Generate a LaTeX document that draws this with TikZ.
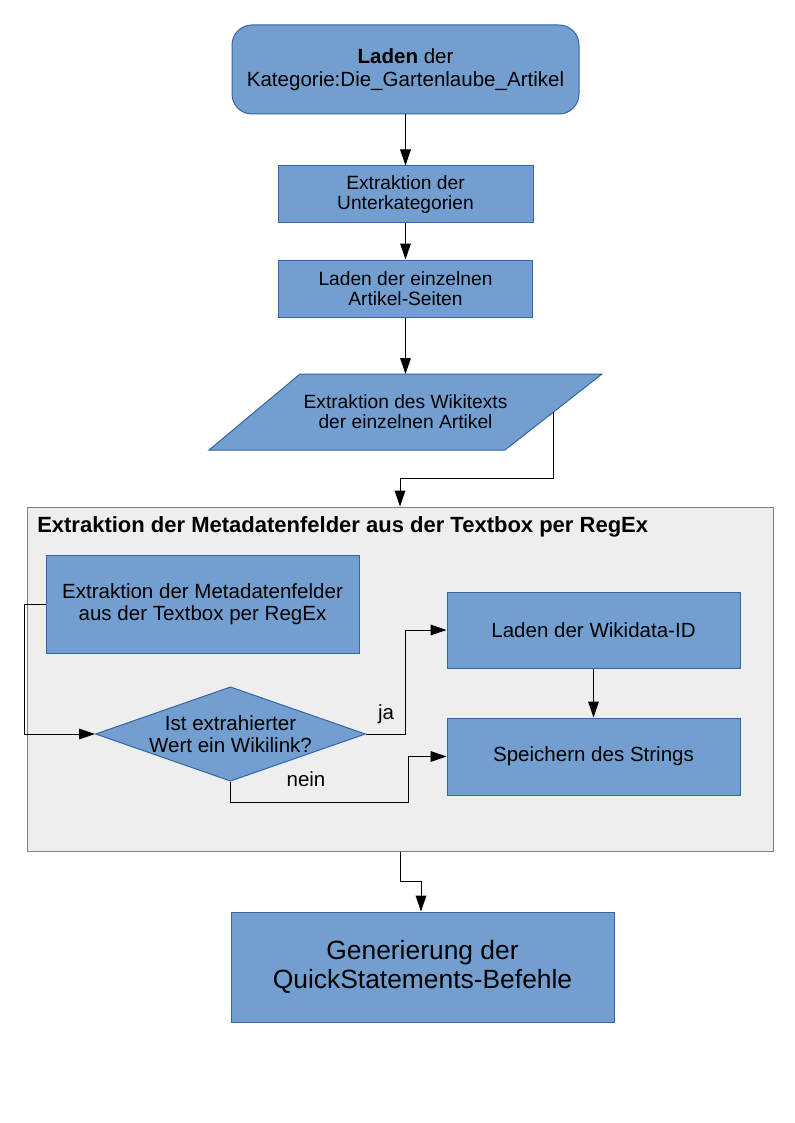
\documentclass[tikz,border=0pt]{standalone}
\usepackage{fontspec}
\setmainfont{Liberation Sans}
\usetikzlibrary{arrows.meta,shapes.geometric}
\definecolor{boxfill}{HTML}{729FCF}
\definecolor{boxline}{HTML}{3465A4}
\definecolor{metafill}{HTML}{EEEEEE}
\definecolor{metaline}{HTML}{7F7F7F}
\newcommand{\fsmall}{\fontsize{14.4}{15}\selectfont}
\newcommand{\fmid}  {\fontsize{15.4}{16.8}\selectfont}
\newcommand{\fbig}  {\fontsize{19.8}{21.75}\selectfont}

\begin{document}
\begin{tikzpicture}[x=0.75pt,y=-0.75pt,
   box/.style={draw=boxline,fill=boxfill,align=center,inner sep=0pt,line width=0.75pt},
   arr/.style={-{Triangle[length=12pt,width=8pt]},line width=0.75pt}]
   \useasboundingbox (0,0) rectangle (794,1123);
   % oberer Teil
   \node[box,rounded corners=15pt,minimum width=260.25pt,minimum height=66.75pt,font=\fmid] (laden) at (405.5,69.5) {\textbf{Laden} der\\Kategorie:Die\_Gartenlaube\_Artikel};
   \node[box,minimum width=191.25pt,minimum height=42.75pt,font=\fsmall] (unterkat) at (405.5,194.5) {Extraktion der\\Unterkategorien};
   \node[box,minimum width=190.5pt,minimum height=42.75pt,font=\fsmall] (seiten) at (405.5,288.5) {Laden der einzelnen\\Artikel-Seiten};
   \filldraw[draw=boxline,fill=boxfill,line width=0.75pt] (300,374) -- (602,374) -- (505,450) -- (209,450) -- cycle;
   \node[align=center,inner sep=0pt,font=\fsmall] (wikitext) at (405.5,412) {Extraktion des Wikitexts\\der einzelnen Artikel};
   \coordinate (wikitext-ost) at (553.5,412);
   \draw[arr] (laden) -- (unterkat);
   \draw[arr] (unterkat) -- (seiten);
   \draw[arr] (seiten) -- (405.5,374);
   % Metadaten
   \node[draw=metaline,fill=metafill,line width=0.75pt,inner sep=0pt,minimum width=559.5pt,minimum height=258pt] (meta) at (400,679) {};
   \node[anchor=west,inner sep=0pt,font=\bfseries\fontsize{16.5}{18}\selectfont] (titel) at (37,527) {Extraktion der Metadatenfelder aus der Textbox per RegEx};
   \coordinate (k1) at (400,478);
   \draw[arr] (wikitext-ost) |- (k1) -- (meta.north);
   \node[box,minimum width=234.75pt,minimum height=73.5pt,font=\fmid] (regex) at (202.5,604) {Extraktion der Metadatenfelder\\aus der Textbox per RegEx};
   \node[box,shape=diamond,aspect=2.86,inner sep=0pt,font=\fmid,align=center] (frage) at (230.5,734) {Ist extrahierter\\Wert ein Wikilink?};
   \node[box,minimum width=219.75pt,minimum height=57pt,font=\fmid] (wikidata) at (593.5,630) {Laden der Wikidata-ID};
   \node[box,minimum width=219.75pt,minimum height=57.75pt,font=\fmid] (speichern) at (593.5,756.5) {Speichern des Strings};
   \draw[arr] (regex.west) -- ++(-21,0) |- (frage.west);
   \draw[arr] (frage.east) -- ++(40,0) |- (wikidata.west);
   \coordinate (k2) at (408,802);
   \draw[arr] (frage.south) |- (k2) |- (speichern.west);
   \draw[arr] (wikidata) -- (speichern);
   \node[font=\fmid] (ja) at (386,714) {ja};
   \node[font=\fmid] (nein) at (306,779) {nein};
   % unterer Teil
   \node[box,minimum width=287.25pt,minimum height=82.5pt,font=\fbig] (qs) at (422.5,967) {Generierung der\\QuickStatements-Befehle};
   \coordinate (k3) at (421,881);
   \draw[arr] (meta.south) |- (k3) -- (k3 |- qs.north);
\end{tikzpicture}
\end{document}
